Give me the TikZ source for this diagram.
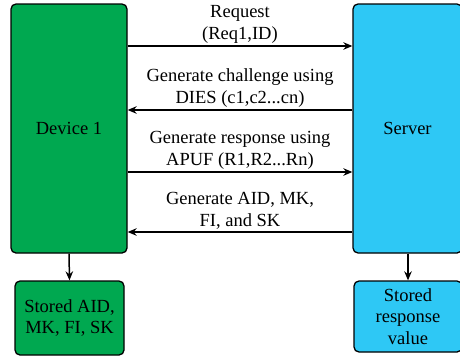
\documentclass[tikz,border=0pt]{standalone}
\usepackage{fontspec}
\setmainfont{Liberation Serif}
\newfontfamily\msgfont{Liberation Serif}
\usetikzlibrary{arrows.meta,positioning}
\definecolor{devgreen}{RGB}{0,168,80}
\definecolor{srvblue}{RGB}{46,200,245}
\tikzstyle{aS}=[every edge/.style={draw,line width=1.5pt,-{Stealth[length=9pt,width=7.5pt]}}]
\tikzstyle{Abox}=[draw,line width=1.3pt,rounded corners=5pt,inner sep=0,align=center]
\tikzstyle{Amsg}=[align=center,inner sep=2pt]
\begin{document}
\begin{tikzpicture}[aS,x=1pt,y=-1pt,font=\msgfont\fontsize{18.5}{21.5}\selectfont]
	\useasboundingbox (0,0) rectangle (460,356);
	\node[Abox,fill=devgreen,minimum width=116pt,minimum height=249pt] (dev) at (69,128.5) {Device 1};
	\node[Abox,fill=srvblue,minimum width=109pt,minimum height=249pt] (srv) at (407.5,128.5) {Server};
	\node[Abox,fill=devgreen,minimum width=109pt,minimum height=74pt] (devs) at (69.5,318) {Stored AID,\\MK, FI, SK};
	\node[Abox,fill=srvblue,minimum width=108pt,minimum height=71pt] (srvs) at (408,316.5) {Stored\\response\\value};
	\path (dev.east |- 0,46) edge node[Amsg,above] {Request\\(Req1,ID)} (srv.west |- 0,46);
	\path (srv.west |- 0,110) edge node[Amsg,above] {Generate challenge using\\DIES (c1,c2...cn)} (dev.east |- 0,110);
	\path (dev.east |- 0,172) edge node[Amsg,above] {Generate response using\\APUF (R1,R2...Rn)} (srv.west |- 0,172);
	\path (srv.west |- 0,232) edge node[Amsg,above] {Generate AID, MK,\\FI, and SK} (dev.east |- 0,232);
	\path (dev.south) edge (devs.north);
	\path (srv.south -| srvs.north) edge (srvs.north);
\end{tikzpicture}
\end{document}
